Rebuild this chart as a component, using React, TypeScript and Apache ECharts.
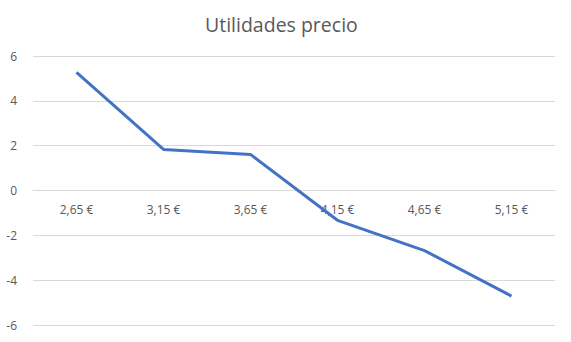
import React, { useEffect, useRef } from "react";
import * as echarts from "echarts";

const categories = ["2,65 €", "3,15 €", "3,65 €", "4,15 €", "4,65 €", "5,15 €"];
const utilidades = [5.27, 1.83, 1.61, -1.33, -2.68, -4.71];
const titleText = "Utilidades precio";

export default function App() {
  const ref = useRef<HTMLDivElement>(null);
  useEffect(() => {
    if (!ref.current) return;
    const chart = echarts.init(ref.current, undefined, { renderer: "svg" });
    chart.setOption({
      animation: false,
      backgroundColor: "#ffffff",
      title: {
        text: titleText,
        left: 200,
        top: 9,
        textStyle: { color: "#595959", fontSize: 19.5, fontWeight: "normal", fontFamily: "Open Sans" },
      },
      grid: { left: 33, right: 16, top: 56, bottom: 17, containLabel: false, outerBoundsMode: "none" },
      xAxis: {
        type: "category",
        data: categories,
        boundaryGap: true,
        position: "bottom",
        offset: -135,
        axisLine: { show: true, onZero: false, lineStyle: { color: "#d9d9d9", width: 1 } },
        axisTick: { show: false },
        axisLabel: { color: "#595959", fontSize: 12, fontFamily: "Open Sans", margin: 13 },
        splitLine: { show: false },
      },
      yAxis: {
        type: "value",
        min: -6,
        max: 6,
        interval: 2,
        axisLine: { show: false },
        axisTick: { show: false },
        axisLabel: { color: "#595959", fontSize: 12, fontFamily: "Open Sans", margin: 16 },
        splitLine: { lineStyle: { color: "#d9d9d9", width: 1 } },
      },
      series: [
        {
          type: "line",
          data: utilidades,
          showSymbol: false,
          symbol: "none",
          lineStyle: { color: "#4472C4", width: 3 },
          itemStyle: { color: "#4472C4" },
        },
      ],
    });
    return () => chart.dispose();
  }, []);
  return <div ref={ref} style={{ width: 571, height: 342, position: "absolute", left: 0, top: 0 }} />;
}
